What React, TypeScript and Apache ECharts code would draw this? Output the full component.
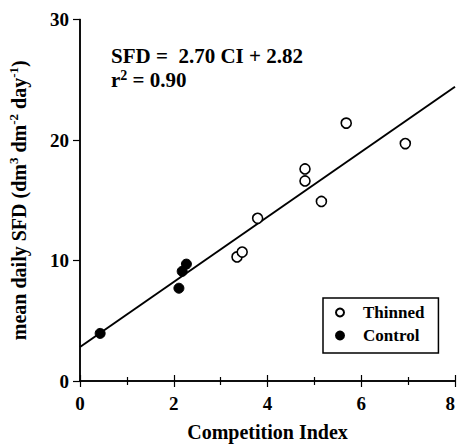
import React, { useEffect, useRef } from "react";
import * as echarts from "echarts";

const thinnedX = [3.35, 3.46, 3.79, 4.8, 4.8, 5.15, 5.68, 6.94];
const thinnedY = [10.3, 10.7, 13.5, 17.6, 16.6, 14.9, 21.4, 19.7];
const controlX = [0.43, 2.11, 2.18, 2.27];
const controlY = [3.95, 7.7, 9.1, 9.7];
const fitX = [0, 8];
const fitY = [2.82, 24.42];
const seriesNames = ["Thinned", "Control"];
const xTitle = "Competition Index";
const equationLine = "SFD =  2.70 CI + 2.82";
const r2Value = "0.90";

const FONT = '"Liberation Serif", "Times New Roman", serif';

export default function App() {
  const ref = useRef<HTMLDivElement>(null);
  useEffect(() => {
    if (!ref.current) return;
    const chart = echarts.init(ref.current, undefined, { renderer: "svg" });
    const zip = (xs: number[], ys: number[]) => xs.map((x, i) => [x, ys[i]]);
    const labelStyle = { fontFamily: FONT, fontWeight: "bold" as const, color: "#000" };
    chart.setOption({
      animation: false,
      backgroundColor: "#fff",
      grid: { left: 80, right: 3, top: 19.5, bottom: 66, containLabel: false, outerBoundsMode: "none" },
      xAxis: [
        {
          type: "value",
          position: "bottom",
          min: 0,
          max: 8,
          interval: 2,
          axisLine: { show: true, lineStyle: { color: "#000", width: 1.5 } },
          axisTick: { show: true, inside: true, length: 6, lineStyle: { color: "#000", width: 1.2 } },
          minorTick: { show: true, splitNumber: 2, length: 4, lineStyle: { color: "#000", width: 1.2 } },
          splitLine: { show: false },
          axisLabel: { ...labelStyle, fontSize: 19, margin: 13, alignMaxLabel: "right" },
          name: xTitle,
          nameLocation: "middle",
          nameGap: 41,
          nameTextStyle: { ...labelStyle, fontSize: 20 },
        },
        {
          type: "value",
          position: "top",
          min: 0,
          max: 8,
          interval: 2,
          axisLine: { show: true, lineStyle: { color: "#000", width: 1.5 } },
          axisTick: { show: true, inside: true, length: 6, lineStyle: { color: "#000", width: 1.2 } },
          minorTick: { show: true, splitNumber: 2, length: 4, lineStyle: { color: "#000", width: 1.2 } },
          splitLine: { show: false },
          axisLabel: { show: false },
        },
      ],
      yAxis: [
        {
          type: "value",
          position: "left",
          min: 0,
          max: 30,
          interval: 10,
          axisLine: { show: true, lineStyle: { color: "#000", width: 1.5 } },
          axisTick: { show: true, inside: false, length: 7, lineStyle: { color: "#000", width: 1.2 } },
          splitLine: { show: false },
          axisLabel: { ...labelStyle, fontSize: 19, margin: 11 },
          name: "mean daily SFD (dm{sup|3} dm{sup|-2} day{sup|-1})",
          nameLocation: "middle",
          nameGap: 49,
          nameTextStyle: {
            ...labelStyle,
            fontSize: 20,
            lineHeight: 24,
            rich: {
              sup: { ...labelStyle, fontSize: 13, lineHeight: 24, verticalAlign: "top" },
            },
          },
        },
        {
          type: "value",
          position: "right",
          min: 0,
          max: 30,
          interval: 10,
          axisLine: { show: true, lineStyle: { color: "#000", width: 1.5 } },
          axisTick: { show: false },
          splitLine: { show: false },
          axisLabel: { show: false },
        },
      ],
      legend: {
        orient: "vertical",
        left: 323,
        top: 298,
        data: seriesNames,
        itemWidth: 10,
        itemHeight: 8,
        itemGap: 6,
        padding: [6, 14, 9, 12],
        borderColor: "#000",
        borderWidth: 1.5,
        backgroundColor: "#fff",
        textStyle: { ...labelStyle, fontSize: 17, padding: [0, 0, 0, 13] },
      },
      graphic: [
        {
          type: "text",
          left: 111,
          top: 45,
          style: { text: equationLine, font: `bold 21px ${FONT}`, fill: "#000" },
        },
        {
          type: "text",
          left: 111,
          top: 68,
          style: {
            text: `{b|r}{s|2}{b| = ${r2Value}}`,
            fill: "#000",
            rich: {
              b: { fontFamily: FONT, fontWeight: "bold", fontSize: 21, lineHeight: 24, fill: "#000" },
              s: { fontFamily: FONT, fontWeight: "bold", fontSize: 14, lineHeight: 24, verticalAlign: "top", fill: "#000" },
            },
          },
        },
      ],
      series: [
        {
          type: "line",
          data: zip(fitX, fitY),
          showSymbol: false,
          symbol: "none",
          lineStyle: { color: "#000", width: 2 },
          z: 1,
          silent: true,
        },
        {
          name: seriesNames[0],
          type: "scatter",
          data: zip(thinnedX, thinnedY),
          symbol: "circle",
          symbolSize: 10,
          itemStyle: { color: "#fff", borderColor: "#000", borderWidth: 1.6, opacity: 1 },
          z: 3,
        },
        {
          name: seriesNames[1],
          type: "scatter",
          data: zip(controlX, controlY),
          symbol: "circle",
          symbolSize: 10,
          itemStyle: { color: "#000", borderColor: "#000", borderWidth: 1, opacity: 1 },
          z: 3,
        },
      ],
    });
    return () => chart.dispose();
  }, []);
  return <div ref={ref} style={{ width: 458, height: 447, position: "absolute", left: 0, top: 0 }} />;
}
